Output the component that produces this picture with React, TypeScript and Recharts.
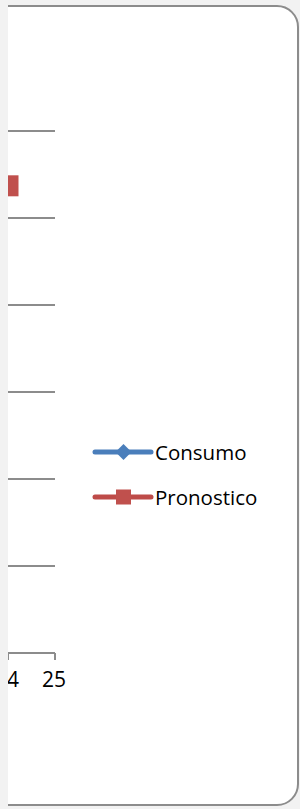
import React from 'react';
import { LineChart, Line, XAxis, YAxis, CartesianGrid, Legend } from 'recharts';

const categories = ['24', '25'];
const consumo: (number | null)[] = [null, null];
const pronostico: (number | null)[] = [537, null];
const yTicks = [0, 100, 200, 300, 400, 500, 600];

const BLUE = '#4a7ebb';
const RED = '#be4b48';
const GRID = '#8c8c8c';
const FONT = '"Open Sans", sans-serif';

const data = categories.map((c, i) => ({ cat: c, Consumo: consumo[i], Pronostico: pronostico[i] }));

const SquareDot = (props: any) => {
  const { cx, cy, value } = props;
  if (value === null || value === undefined || cx == null || cy == null) return null;
  return <rect x={cx - 10.5} y={cy - 10.5} width={21} height={21} fill="#c0504d" />;
};

const DiamondDot = (props: any) => {
  const { cx, cy, value } = props;
  if (value === null || value === undefined || cx == null || cy == null) return null;
  return <polygon points={`${cx},${cy - 10} ${cx + 10},${cy} ${cx},${cy + 10} ${cx - 10},${cy}`} fill="#4f81bd" />;
};

const renderLegend = (props: any) => {
  const { payload } = props;
  return (
    <div style={{ fontFamily: FONT, fontSize: 20.5, color: '#000' }}>
      {payload.map((entry: any, i: number) => (
        <div key={i} style={{ display: 'flex', alignItems: 'center', height: 45.5 }}>
          <svg width={62} height={20} style={{ display: 'block' }}>
            <line x1={3} x2={59} y1={10} y2={10} stroke={entry.color} strokeWidth={5} strokeLinecap="round" />
            {entry.value === 'Consumo' ? (
              <polygon points="31.5,2 39.5,10 31.5,18 23.5,10" fill={entry.color} />
            ) : (
              <rect x={24} y={2.5} width={15} height={15} fill="#c0504d" />
            )}
          </svg>
          <span style={{ marginLeft: 1, lineHeight: '20px' }}>{entry.value}</span>
        </div>
      ))}
    </div>
  );
};

export default function App() {
  return (
    <div style={{ position: 'fixed', left: 0, top: 0, width: 300, height: 809, background: '#f2f2f2', overflow: 'hidden' }}>
      <div style={{ position: 'absolute', left: 8, top: 0, width: 292, height: 809, overflow: 'hidden' }}>
        <div
          style={{
            position: 'absolute',
            left: -40,
            top: 5,
            width: 331,
            height: 801,
            boxSizing: 'border-box',
            background: '#fff',
            border: '2px solid #8c8c8c',
            borderRadius: 22,
          }}
        />
        <div style={{ position: 'absolute', left: 0, top: 0 }}>
          <LineChart width={292} height={809} data={data} margin={{ top: 131, right: 245, bottom: 116, left: 0 }}>
            <CartesianGrid vertical={false} stroke={GRID} strokeWidth={2} />
            <XAxis
              dataKey="cat"
              interval={0}
              height={40}
              padding={{ left: 0, right: 0 }}
              tickSize={7}
              tickMargin={12}
              axisLine={{ stroke: GRID, strokeWidth: 2 }}
              tickLine={{ stroke: GRID, strokeWidth: 2 }}
              tick={{ fill: '#000', fontSize: 21, fontFamily: FONT, dx: -1 }}
            />
            <YAxis hide domain={[0, 600]} ticks={yTicks} />
            <Legend
              layout="horizontal"
              verticalAlign="middle"
              align="center"
              content={renderLegend}
              wrapperStyle={{ position: 'absolute', left: 84, top: 429, width: 200 }}
            />
            <Line
              type="linear"
              dataKey="Consumo"
              stroke={BLUE}
              strokeWidth={5}
              dot={<DiamondDot />}
              isAnimationActive={false}
            />
            <Line
              type="linear"
              dataKey="Pronostico"
              stroke={RED}
              strokeWidth={5}
              dot={<SquareDot />}
              isAnimationActive={false}
            />
          </LineChart>
        </div>
      </div>
    </div>
  );
}
